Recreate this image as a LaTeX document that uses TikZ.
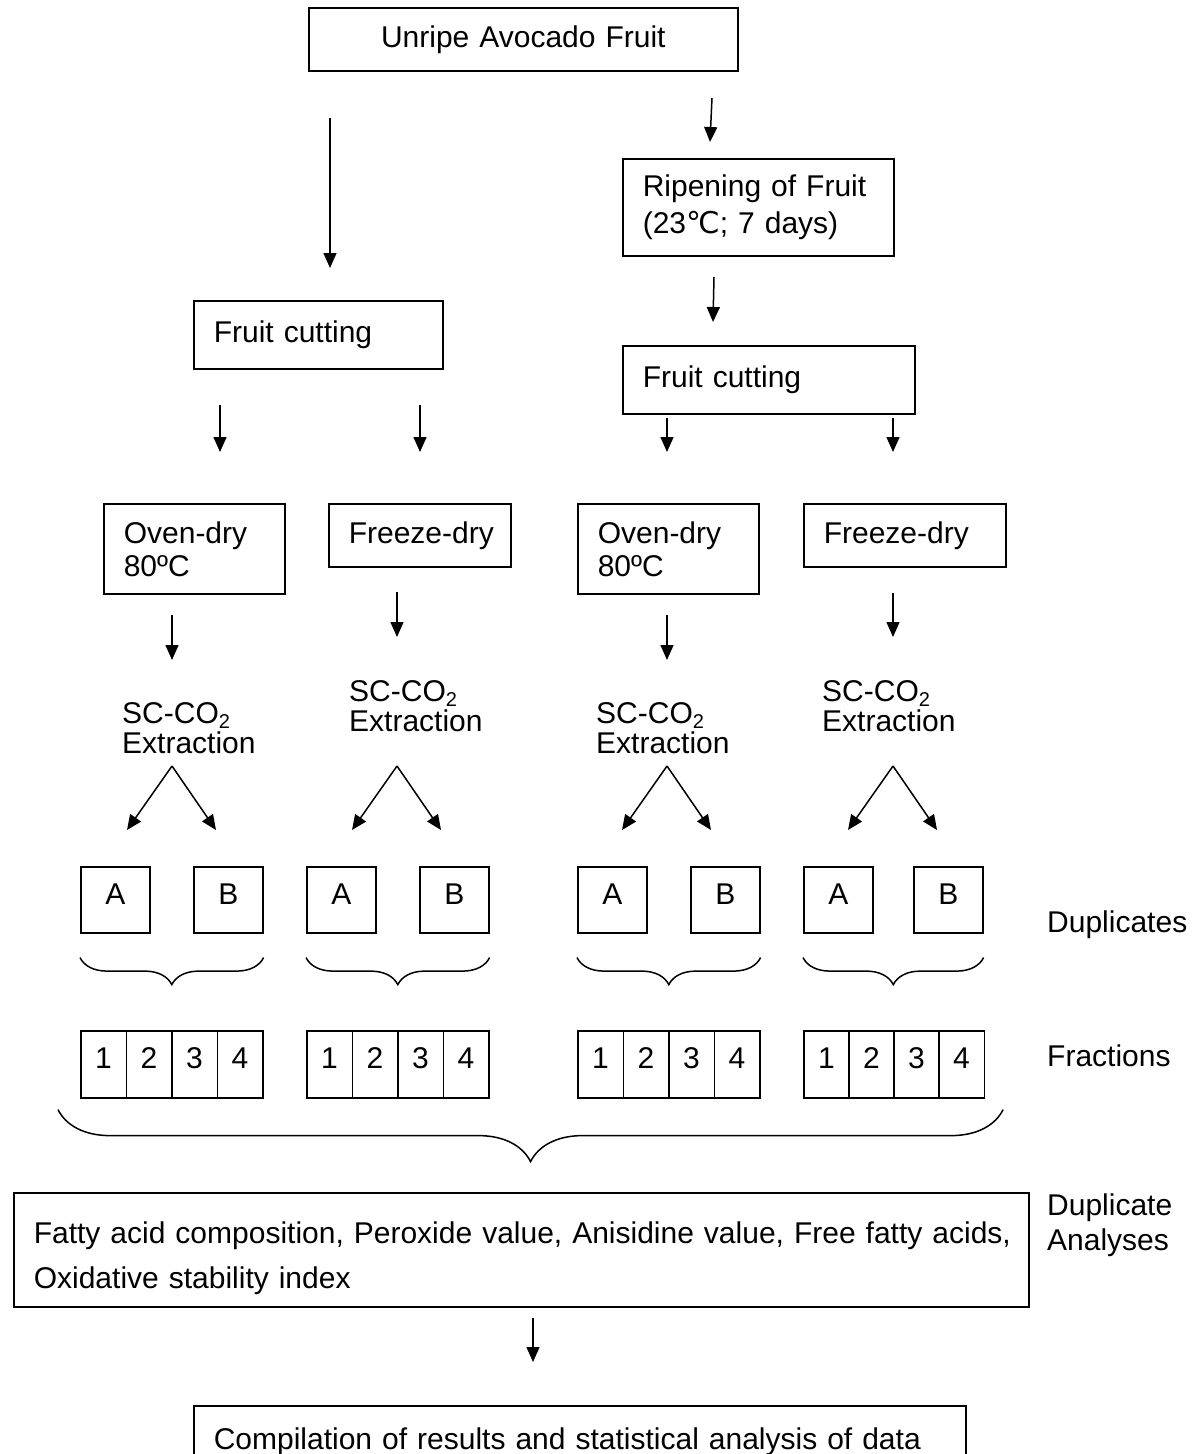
\documentclass[tikz,border=0pt]{standalone}
\usepackage{fontspec}
\setmainfont{Liberation Sans}
\newfontfamily\celsiusfont{DejaVu Sans}
\usetikzlibrary{arrows.meta, decorations.pathreplacing}
\exhyphenpenalty=10000
\hyphenpenalty=10000
\newcommand\subtwo{\raisebox{-5pt}{\fontsize{20}{20}\selectfont 2}}
\tikzstyle{every node}=[font=\fontsize{30}{35}\selectfont, inner sep=0]
\tikzstyle{stage}=[draw, line width=1.6, anchor=north west, align=left, inner xsep=20]
\tikzstyle{sample}=[draw, line width=1.6, anchor=north west, minimum width=69, minimum height=66, text height=21, text depth=11]
\tikzstyle{cell}=[draw, line width=1.6, anchor=north west, minimum width=45.5, minimum height=67, text height=21, text depth=12]
\tikzstyle{extract}=[anchor=base west, align=left, font=\fontsize{30}{30}\selectfont]
\tikzstyle{flow}=[line width=1.5, -{Triangle[length=15pt, width=13pt]}]
\tikzstyle{group}=[line width=1.5, decorate, decoration={brace, mirror, amplitude=27}]
\tikzstyle{biggroup}=[line width=1.5, decorate, decoration={brace, mirror, amplitude=52}]

\begin{document}
\begin{tikzpicture}[x=1pt, y=-1pt]
\useasboundingbox (0,0) rectangle (1202,1454);
% Process boxes
    \node[stage, align=center, text width=389, minimum height=63] (unripe) at (308,7) {Unripe Avocado Fruit};
    \node[stage, text width=231, minimum height=97, font=\fontsize{30}{37}\selectfont] (ripen) at (622,158) {Ripening of Fruit\\(23{\celsiusfont ℃}; 7 days)};
    \node[stage, text width=209, minimum height=68] (cutA) at (193,300) {Fruit cutting};
    \node[stage, text width=252, minimum height=68] (cutB) at (622,345) {Fruit cutting};
    \node[stage, text width=141, minimum height=90, font=\fontsize{30}{33}\selectfont] (ovenA) at (103,503) {Oven-dry\\80ºC};
    \node[stage, text width=142, minimum height=63] (freezeA) at (328,503) {Freeze-dry};
    \node[stage, text width=141, minimum height=90, font=\fontsize{30}{33}\selectfont] (ovenB) at (577,503) {Oven-dry\\80ºC};
    \node[stage, text width=162, minimum height=63] (freezeB) at (803,503) {Freeze-dry};
% Extraction
    \node[extract] (scA) at (122,753) {SC-CO\subtwo\\Extraction};
    \node[extract] (scB) at (349,731) {SC-CO\subtwo\\Extraction};
    \node[extract] (scC) at (596,753) {SC-CO\subtwo\\Extraction};
    \node[extract] (scD) at (822,731) {SC-CO\subtwo\\Extraction};
% Duplicates
    \node[sample] (a1) at (80,866) {A};
    \node[sample] (b1) at (193,866) {B};
    \node[sample] (a2) at (306,866) {A};
    \node[sample] (b2) at (419,866) {B};
    \node[sample] (a3) at (577,866) {A};
    \node[sample] (b3) at (690,866) {B};
    \node[sample] (a4) at (803,866) {A};
    \node[sample] (b4) at (913,866) {B};
% Fractions
    \node[cell] (f11) at (80,1030) {1};
    \node[cell] (f12) at (125.5,1030) {2};
    \node[cell] (f13) at (171,1030) {3};
    \node[cell] (f14) at (216.5,1030) {4};
    \node[cell] (f21) at (306,1030) {1};
    \node[cell] (f22) at (351.5,1030) {2};
    \node[cell] (f23) at (397,1030) {3};
    \node[cell] (f24) at (442.5,1030) {4};
    \node[cell] (f31) at (577,1030) {1};
    \node[cell] (f32) at (622.5,1030) {2};
    \node[cell] (f33) at (668,1030) {3};
    \node[cell] (f34) at (713.5,1030) {4};
    \node[cell] (f41) at (803,1030) {1};
    \node[cell] (f42) at (848,1030) {2};
    \node[cell] (f43) at (893,1030) {3};
    \node[cell] (f44) at (938,1030) {4};
% Analyses
    \node[stage, text width=975, minimum height=114, text height=39, text depth=51, font=\fontsize{30}{45}\selectfont] (tests) at (13,1192) {\mbox{Fatty acid composition, Peroxide value, Anisidine value, Free fatty acids,}\\Oxidative stability index};
    \node[stage, text width=732, minimum height=72] (stats) at (193,1405) {Compilation of results and statistical analysis of data};
% Side labels
    \node[anchor=base west] (dupl) at (1047,932) {Duplicates};
    \node[anchor=base west] (fracl) at (1047,1066) {Fractions};
    \node[anchor=base west, align=left] (anal) at (1047,1250) {Duplicate\\Analyses};
% Braces
    \draw[group] ([yshift=-24pt]a1.south west) -- ([yshift=-24pt]b1.south east);
    \draw[group] ([yshift=-24pt]a2.south west) -- ([yshift=-24pt]b2.south east);
    \draw[group] ([yshift=-24pt]a3.south west) -- ([yshift=-24pt]b3.south east);
    \draw[group] ([yshift=-24pt]a4.south west) -- ([yshift=-24pt]b4.south east);
    \draw[biggroup] ([shift={(-22,11)}]f11.south west) -- ([shift={(18,11)}]f44.south east);
% Arrows
    \coordinate (p1) at (330,118);  \coordinate (q1) at (330,268);
    \coordinate (p2) at (712,98);   \coordinate (q2) at (710,142);
    \coordinate (p3) at (714,277);  \coordinate (q3) at (713,322);
    \coordinate (p4) at (220,405);  \coordinate (q4) at (220,452);
    \coordinate (p5) at (420,405);  \coordinate (q5) at (420,452);
    \coordinate (p6) at (667,418);  \coordinate (q6) at (667,452);
    \coordinate (p7) at (893,418);  \coordinate (q7) at (893,452);
    \coordinate (p8) at (172,615);  \coordinate (q8) at (172,660);
    \coordinate (p9) at (397,592);  \coordinate (q9) at (397,637);
    \coordinate (p10) at (667,615); \coordinate (q10) at (667,660);
    \coordinate (p11) at (893,593); \coordinate (q11) at (893,637);
    \coordinate (p12) at (533,1318); \coordinate (q12) at (533,1362);
    \draw[flow] (p1) -- (q1);
    \draw[flow] (p2) -- (q2);
    \draw[flow] (p3) -- (q3);
    \draw[flow] (p4) -- (q4);
    \draw[flow] (p5) -- (q5);
    \draw[flow] (p6) -- (q6);
    \draw[flow] (p7) -- (q7);
    \draw[flow] (p8) -- (q8);
    \draw[flow] (p9) -- (q9);
    \draw[flow] (p10) -- (q10);
    \draw[flow] (p11) -- (q11);
    \draw[flow] (p12) -- (q12);
% Split into duplicates
    \coordinate (k1) at (172,766); \coordinate (l1) at (127,830); \coordinate (r1) at (216,830);
    \coordinate (k2) at (397,766); \coordinate (l2) at (352,830); \coordinate (r2) at (441,830);
    \coordinate (k3) at (667,766); \coordinate (l3) at (622,830); \coordinate (r3) at (711,830);
    \coordinate (k4) at (893,766); \coordinate (l4) at (848,830); \coordinate (r4) at (937,830);
    \draw[flow] (k1) -- (l1);
    \draw[flow] (k1) -- (r1);
    \draw[flow] (k2) -- (l2);
    \draw[flow] (k2) -- (r2);
    \draw[flow] (k3) -- (l3);
    \draw[flow] (k3) -- (r3);
    \draw[flow] (k4) -- (l4);
    \draw[flow] (k4) -- (r4);
\end{tikzpicture}
\end{document}
